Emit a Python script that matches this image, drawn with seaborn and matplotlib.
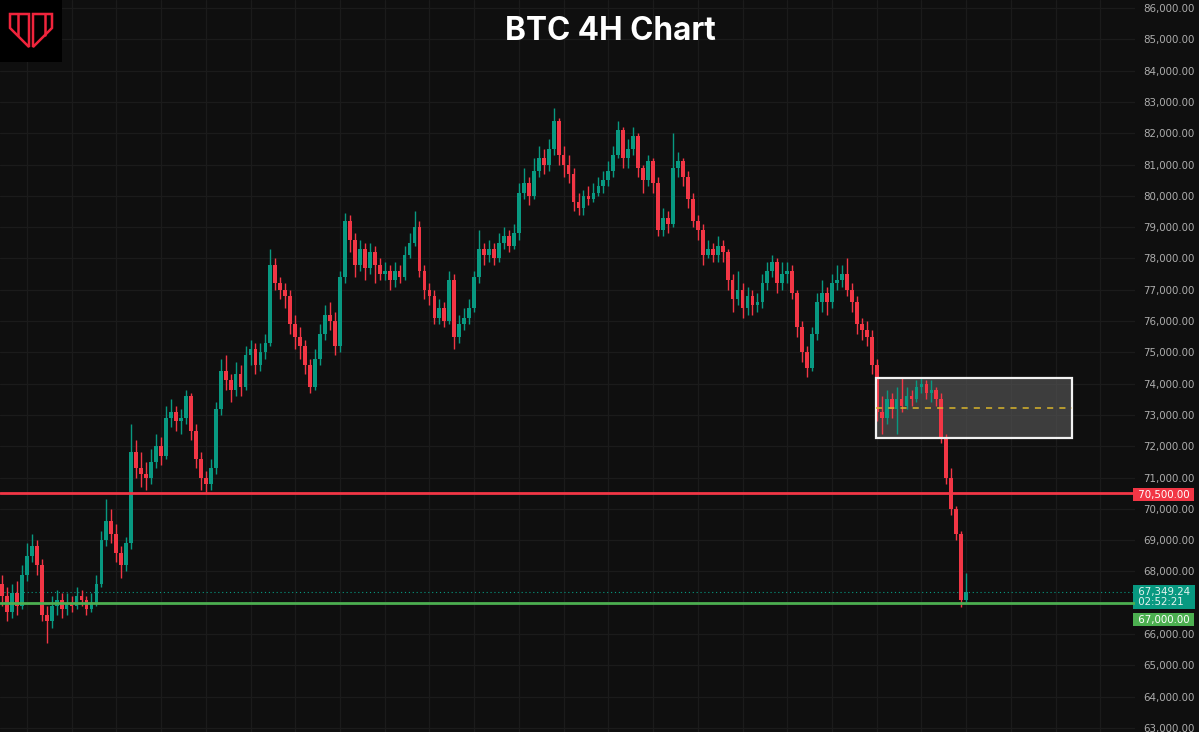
import numpy as np
import pandas as pd
import matplotlib
matplotlib.use("Agg")
import matplotlib.pyplot as plt
import matplotlib.transforms as mtransforms
from matplotlib.patches import Rectangle, Polygon
import seaborn as sns

# 4H candles, prices in thousands (open = previous close)
first_open = 67.6
closes = [67.2, 66.7, 67.3, 66.9, 67.9, 68.5, 68.8, 68.2, 66.6, 66.4,
          66.9, 67.1, 66.8, 67.0, 66.9, 67.2, 67.1, 66.8, 67.0, 67.6,
          69.0, 69.6, 69.2, 68.6, 68.2, 68.9, 71.8, 71.3, 71.1, 71.0,
          71.5, 72.0, 71.7, 72.9, 73.1, 72.8, 72.9, 73.6, 72.5, 71.6,
          71.0, 70.8, 71.3, 73.2, 74.4, 74.1, 73.8, 74.3, 73.9, 74.9,
          75.1, 74.6, 75.0, 75.3, 77.8, 77.2, 77.0, 76.8, 75.9, 75.5,
          75.2, 74.6, 73.9, 74.8, 75.6, 76.2, 76.0, 75.2, 77.4, 79.2,
          78.6, 77.8, 78.3, 77.7, 78.2, 77.8, 77.5, 77.6, 77.3, 77.6,
          77.4, 78.1, 78.5, 79.0, 77.6, 77.0, 76.8, 76.1, 76.4, 76.0,
          77.3, 75.5, 75.9, 76.1, 76.4, 77.4, 78.3, 78.1, 78.3, 78.0,
          78.5, 78.7, 78.4, 78.8, 80.1, 80.4, 80.0, 80.8, 81.2, 81.0,
          81.5, 82.4, 81.3, 81.0, 80.7, 79.8, 79.6, 80.0, 79.9, 80.1,
          80.3, 80.5, 80.8, 81.3, 82.1, 81.2, 81.5, 81.9, 80.9, 80.5,
          81.1, 80.4, 78.9, 79.3, 79.1, 80.9, 81.1, 80.6, 79.9, 79.2,
          78.9, 78.1, 78.3, 78.1, 78.4, 78.2, 77.3, 76.7, 77.0, 76.4,
          76.8, 76.5, 76.6, 77.2, 77.6, 77.9, 77.2, 77.5, 77.6, 76.9,
          75.8, 75.0, 74.5, 75.6, 76.6, 76.9, 76.6, 77.2, 77.3, 77.5,
          77.0, 76.6, 75.9, 75.7, 75.5, 74.6, 73.1, 72.9, 73.5, 73.2,
          73.5, 73.3, 73.6, 73.5, 73.9, 74.0, 73.7, 73.8, 73.5, 72.3,
          71.0, 70.0, 69.2, 67.1, 67.34924]
highs = [67.9, 67.5, 67.6, 67.7, 68.2, 68.9, 69.2, 69.0, 68.4, 66.9,
         67.2, 67.4, 67.3, 67.3, 67.2, 67.5, 67.4, 67.2, 67.3, 67.9,
         69.3, 70.3, 70.0, 69.5, 68.8, 69.1, 72.7, 72.2, 71.8, 71.5,
         71.9, 72.4, 72.3, 73.3, 73.5, 73.3, 73.2, 73.8, 73.7, 72.7,
         71.8, 71.2, 71.6, 73.4, 74.8, 74.9, 74.3, 74.7, 74.6, 75.2,
         75.4, 75.3, 75.3, 75.6, 78.3, 78.0, 77.4, 77.2, 77.0, 76.2,
         75.8, 75.4, 74.8, 75.1, 75.9, 76.5, 76.6, 76.3, 77.6, 79.45,
         79.4, 78.8, 78.6, 78.5, 78.5, 78.4, 78.0, 77.9, 77.8, 77.9,
         77.8, 78.4, 78.8, 79.5, 79.2, 77.8, 77.2, 77.0, 76.7, 76.6,
         77.6, 77.5, 76.2, 76.4, 76.7, 77.6, 78.9, 78.5, 78.6, 78.5,
         78.8, 79.0, 78.9, 79.1, 80.4, 80.9, 80.6, 81.2, 81.6, 81.5,
         81.8, 82.8, 82.5, 81.6, 81.3, 80.9, 80.1, 80.2, 80.3, 80.4,
         80.6, 80.8, 81.1, 81.6, 82.4, 82.2, 81.8, 82.2, 82.0, 81.0,
         81.3, 81.2, 80.6, 79.6, 79.5, 82.0, 81.4, 81.2, 80.8, 80.1,
         79.4, 79.1, 78.6, 78.5, 78.7, 78.6, 78.3, 77.5, 77.6, 77.2,
         77.1, 77.0, 76.9, 77.5, 77.9, 78.1, 78.0, 77.9, 77.9, 77.8,
         77.0, 76.0, 75.2, 75.8, 76.9, 77.3, 77.1, 77.5, 77.8, 77.8,
         78.0, 77.2, 76.8, 76.1, 76.0, 75.7, 74.8, 73.6, 73.8, 73.7,
         73.9, 74.2, 73.9, 73.8, 74.1, 74.2, 74.1, 74.1, 73.9, 73.7,
         72.4, 71.3, 70.1, 69.3, 67.95]
lows = [66.9, 66.4, 66.5, 66.6, 66.8, 67.7, 68.3, 67.9, 66.4, 65.7,
        66.2, 66.6, 66.5, 66.6, 66.7, 66.8, 66.9, 66.6, 66.7, 66.9,
        67.5, 68.8, 68.9, 68.3, 67.8, 68.0, 68.7, 71.0, 70.7, 70.6,
        70.8, 71.3, 71.4, 71.6, 72.6, 72.5, 72.4, 72.7, 72.2, 71.3,
        70.6, 70.5, 70.6, 71.1, 73.0, 73.8, 73.4, 73.6, 73.6, 73.8,
        74.6, 74.3, 74.4, 74.8, 75.2, 77.0, 76.7, 76.4, 75.6, 75.1,
        74.8, 74.3, 73.7, 73.8, 74.6, 75.4, 75.7, 74.9, 75.0, 77.2,
        78.2, 77.4, 77.6, 77.3, 77.5, 77.2, 77.3, 77.3, 77.0, 77.1,
        77.2, 77.3, 78.0, 78.4, 77.4, 76.7, 76.5, 75.9, 75.9, 75.8,
        75.9, 75.1, 75.3, 75.7, 75.9, 76.3, 77.2, 77.8, 77.9, 77.8,
        77.9, 78.3, 78.2, 78.3, 78.6, 79.9, 79.7, 79.9, 80.6, 80.7,
        80.8, 81.3, 81.0, 80.6, 80.4, 79.5, 79.4, 79.4, 79.7, 79.8,
        80.0, 80.1, 80.3, 80.6, 81.2, 80.9, 80.9, 81.3, 80.6, 80.1,
        80.3, 80.1, 78.7, 78.7, 78.8, 79.0, 80.6, 80.3, 79.6, 79.0,
        78.6, 77.8, 78.0, 77.9, 77.9, 77.9, 77.0, 76.3, 76.5, 76.1,
        76.2, 76.2, 76.3, 76.4, 77.0, 77.4, 76.9, 77.0, 77.2, 76.7,
        75.5, 74.7, 74.2, 74.4, 75.4, 76.3, 76.2, 76.4, 77.0, 77.1,
        76.8, 76.3, 75.6, 75.4, 75.2, 74.3, 72.8, 72.4, 72.7, 72.9,
        72.4, 73.1, 73.2, 73.3, 73.4, 73.7, 73.5, 73.4, 73.3, 72.1,
        70.8, 69.8, 69.0, 66.86, 67.0]

last_price = 67349.24
countdown = "02:52:21"
resistance = 70500
support = 67000
zone_low, zone_high, zone_mid = 72260, 74180, 73220

opens = [first_open] + closes[:-1]
df = pd.DataFrame({"open": opens, "high": highs, "low": lows, "close": closes}) * 1000
df["idx"] = np.arange(len(df))
df["up"] = df["close"] >= df["open"]

GREEN = "#089981"
RED = "#f23645"
LIME = "#4caf50"
BG = "#0f0f0f"

sns.set_theme(style="dark", rc={"axes.facecolor": BG, "figure.facecolor": BG,
                                "grid.color": "#1b1b1b", "axes.edgecolor": BG})
plt.rcParams["font.family"] = ["DejaVu Sans"]

fig = plt.figure(figsize=(11.99, 7.32), dpi=100)
ax = fig.add_axes([0, 0, 1135 / 1199, 1])
ax.set_facecolor(BG)

step = 4.97  # px per candle
ax.set_xlim(-2 / step, 1133 / step)
ax.set_ylim(62869, 86256)

# grid + price scale (the 67,000 tick text is covered by the level labels)
ax.set_xticks(np.arange(5, 230, 9))
ax.set_xticklabels([])
ticks = np.arange(63000, 86001, 1000)
ax.set_yticks(ticks)
ax.set_yticklabels(["" if t == support else f"{t:,.2f}" for t in ticks])
ax.yaxis.tick_right()
ax.tick_params(axis="y", length=0, pad=6, labelcolor="#adadad", labelsize=7.4)
ax.tick_params(axis="x", length=0)
ax.grid(True, color="#1b1b1b", lw=0.9)
for s in ax.spines.values():
    s.set_visible(False)

# zone box
x0 = 874 / step
x1 = 1070 / step
ax.add_patch(Rectangle((x0, zone_low), x1 - x0, zone_high - zone_low,
                       facecolor="#5c5c5c", alpha=0.6, edgecolor="none", zorder=1))
ax.add_patch(Rectangle((x0, zone_low), x1 - x0, zone_high - zone_low,
                       facecolor="none", edgecolor="#f2f2f2", lw=1.6, zorder=4))
ax.plot([x0, x1], [zone_mid, zone_mid], color="#d9b52c", lw=1.1, ls=(0, (4, 4)), zorder=4)

# candles
colors = np.where(df["up"], GREEN, RED)
ax.vlines(df["idx"], df["low"], df["high"], colors=colors, lw=1.0, zorder=3)
body_lo = df[["open", "close"]].min(axis=1)
body_h = (df["close"] - df["open"]).abs().clip(lower=40)
ax.bar(df["idx"], body_h, bottom=body_lo, width=0.76, color=colors, linewidth=0, zorder=3)

# levels
ax.axhline(resistance, color=RED, lw=2, zorder=5)
ax.axhline(support, color=LIME, lw=2, zorder=5)
ax.axhline(last_price, color=GREEN, lw=0.8, ls=(0, (1, 2.5)), zorder=2)

# price scale labels
trans = mtransforms.blended_transform_factory(ax.transAxes, ax.transData)
box = dict(boxstyle="square,pad=0.15", ec="none")
ax.annotate(f" {resistance:,.2f} ", xy=(1.0, resistance), xycoords=trans,
            xytext=(0, -1), textcoords="offset points", ha="left", va="center",
            fontsize=7.4, color="white", annotation_clip=False,
            bbox=dict(box, fc=RED))
ax.annotate(f" {last_price:,.2f} \n {countdown}", xy=(1.0, last_price), xycoords=trans,
            xytext=(0, -3.6), textcoords="offset points", ha="left", va="center",
            fontsize=7.4, color="#e3f3ef", linespacing=1.05, annotation_clip=False,
            bbox=dict(box, fc=GREEN))
ax.annotate(f" {support:,.2f} ", xy=(1.0, support), xycoords=trans,
            xytext=(0, -12.4), textcoords="offset points", ha="left", va="center",
            fontsize=7.4, color="white", annotation_clip=False,
            bbox=dict(box, fc=LIME))

# title
fig.text(610 / 1199, 1 - 31 / 732, "BTC 4H Chart", ha="center", va="center",
         color="white", fontsize=22.7, fontweight="bold", family="Inter")

# logo
lax = fig.add_axes([0, 1 - 62 / 732, 62 / 1199, 62 / 732])
lax.set_facecolor("black")
lax.set_xlim(0, 62)
lax.set_ylim(62, 0)
lax.set_xticks([])
lax.set_yticks([])
for s in lax.spines.values():
    s.set_visible(False)
red_logo = "#f0243c"
lax.add_patch(Polygon([(10, 14), (29, 14), (29, 47), (10, 28)], closed=True,
                      fill=False, ec=red_logo, lw=1.8, joinstyle="miter"))
lax.add_patch(Polygon([(33, 14), (52, 14), (52, 28), (33, 47)], closed=True,
                      fill=False, ec=red_logo, lw=1.8, joinstyle="miter"))
lax.plot([17.5, 17.5], [14, 35], color=red_logo, lw=1.8)
lax.plot([44.5, 44.5], [14, 35], color=red_logo, lw=1.8)

fig.savefig("out.png", dpi=100, facecolor=BG)
